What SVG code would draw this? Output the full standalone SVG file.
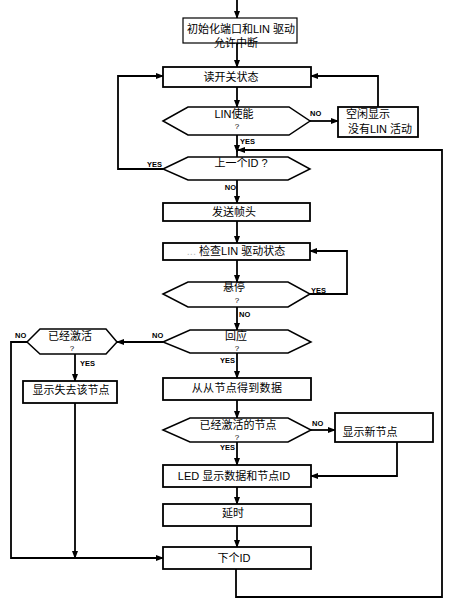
<svg xmlns="http://www.w3.org/2000/svg" width="450" height="607" viewBox="0 0 450 607">
<style>
.bx{fill:#fff;stroke:#000;stroke-width:1.8}
.hx{fill:#fff;stroke:#000;stroke-width:1.5}
.t{font-family:"Liberation Sans","Noto Sans CJK SC",sans-serif;font-size:11px;fill:#000;text-anchor:middle}
.q{font-family:"Liberation Sans",sans-serif;font-size:8px;fill:#000;text-anchor:middle}
.l{font-family:"Liberation Sans",sans-serif;font-size:7.5px;font-weight:bold;fill:#000}
.c{fill:none;stroke:#000;stroke-width:1.8}
</style>
<defs>
<marker id="a" markerWidth="8" markerHeight="6" refX="7" refY="3" orient="auto" markerUnits="userSpaceOnUse">
<path d="M0,0 L8,3 L0,6 Z" fill="#000"/>
</marker>
</defs>
<g id="connectors">
<path class="c" d="M237,0 V18" marker-end="url(#a)"/>
<path class="c" d="M237,43 V67" marker-end="url(#a)"/>
<path class="c" d="M237,87 V107" marker-end="url(#a)"/>
<path class="c" d="M310,121 H338" marker-end="url(#a)"/>
<path class="c" d="M378,107 V76 H311" marker-end="url(#a)"/>
<path class="c" d="M237,135 V152" marker-end="url(#a)"/>
<path class="c" d="M237,150 V157"/>
<path class="c" d="M236,569 V597 H442 V150 H238" marker-end="url(#a)"/>
<path class="c" d="M163,169 H118 V76 H163" marker-end="url(#a)"/>
<path class="c" d="M237,180 V203" marker-end="url(#a)"/>
<path class="c" d="M237,221 V243" marker-end="url(#a)"/>
<path class="c" d="M237,260 V282" marker-end="url(#a)"/>
<path class="c" d="M310,294 H347 V251 H310" marker-end="url(#a)"/>
<path class="c" d="M237,307 V330" marker-end="url(#a)"/>
<path class="c" d="M163,342 H117" marker-end="url(#a)"/>
<path class="c" d="M27,342 H11 V558 H163" marker-end="url(#a)"/>
<path class="c" d="M75,354 V381" marker-end="url(#a)"/>
<path class="c" d="M75,403 V558" marker-end="url(#a)"/>
<path class="c" d="M237,353 V378" marker-end="url(#a)"/>
<path class="c" d="M237,400 V418" marker-end="url(#a)"/>
<path class="c" d="M311,430 H335" marker-end="url(#a)"/>
<path class="c" d="M397,442 V476 H311" marker-end="url(#a)"/>
<path class="c" d="M237,442 V465" marker-end="url(#a)"/>
<path class="c" d="M237,487 V504" marker-end="url(#a)"/>
<path class="c" d="M237,526 V547" marker-end="url(#a)"/>
</g>
<g id="init">
<rect x="183" y="18" width="114" height="25" fill="#fff" stroke="#000" stroke-width="1.2"/>
<text class="t" x="241" y="33">初始化端口和LIN 驱动</text>
<text class="t" x="236" y="47">允许中断</text>
</g>
<g id="readSwitch">
<rect class="bx" x="163" y="67" width="148" height="20"/>
<text class="t" x="231" y="81">读开关状态</text>
</g>
<g id="linEnable">
<polygon class="hx" points="163,121 188,107 289,107 310,121 289,135 188,135"/>
<text class="t" x="234" y="118">LIN使能</text>
<text class="q" x="237" y="129">?</text>
</g>
<g id="idle">
<rect class="bx" x="338" y="107" width="80" height="30"/>
<text class="t" x="368" y="118">空闲显示</text>
<text class="t" x="380" y="133">没有LIN 活动</text>
</g>
<g id="lastId">
<polygon class="hx" points="163,169 188,157 288,157 310,169 288,180 188,180"/>
<text class="t" x="241" y="167">上一个ID  ?</text>
</g>
<g id="sendHeader">
<rect class="bx" x="163" y="203" width="147" height="18"/>
<text class="t" x="234" y="216">发送帧头</text>
</g>
<g id="checkLin">
<rect class="bx" x="163" y="243" width="147" height="17"/>
<text class="t" x="236" y="255"><tspan fill="#bbb">... </tspan>检查LIN 驱动状态</text>
</g>
<g id="pending">
<polygon class="hx" points="163,294 188,282 288,282 310,294 288,307 188,307"/>
<text class="t" x="234" y="291">悬停</text>
<text class="q" x="237" y="303">?</text>
</g>
<g id="response">
<polygon class="hx" points="163,342 190,330 288,330 311,342 288,353 190,353"/>
<text class="t" x="236" y="340">回应</text>
<text class="q" x="237" y="351">?</text>
</g>
<g id="activated">
<polygon class="hx" points="27,342 40,329 106,329 117,342 106,354 40,354"/>
<text class="t" x="70" y="340">已经激活</text>
<text class="q" x="72" y="351">?</text>
</g>
<g id="showLost">
<rect class="bx" x="23" y="381" width="94" height="22"/>
<text class="t" x="71" y="394">显示失去该节点</text>
</g>
<g id="getData">
<rect class="bx" x="163" y="378" width="148" height="22"/>
<text class="t" x="237" y="392" letter-spacing="0.3">从从节点得到数据</text>
</g>
<g id="activatedNode">
<polygon class="hx" points="163,430 190,418 288,418 311,430 288,442 190,442"/>
<text class="t" x="238" y="429">已经激活的节点</text>
<text class="q" x="237" y="440">?</text>
</g>
<g id="showNew">
<rect class="bx" x="335" y="413" width="98" height="29"/>
<text class="t" x="370" y="436">显示新节点</text>
</g>
<g id="ledShow">
<rect class="bx" x="163" y="465" width="148" height="22"/>
<text class="t" x="234" y="480">LED 显示数据和节点ID</text>
</g>
<g id="delay">
<rect class="bx" x="163" y="504" width="148" height="22"/>
<text class="t" x="233" y="517">延时</text>
</g>
<g id="nextId">
<rect class="bx" x="163" y="547" width="148" height="22"/>
<text class="t" x="234" y="562">下个ID</text>
</g>
<g id="labels">
<text class="l" x="310" y="116">NO</text>
<text class="l" x="240" y="144">YES</text>
<text class="l" x="147" y="167">YES</text>
<text class="l" x="236" y="190" text-anchor="end">NO</text>
<text class="l" x="311" y="293">YES</text>
<text class="l" x="239" y="317">NO</text>
<text class="l" x="152" y="338">NO</text>
<text class="l" x="15" y="338">NO</text>
<text class="l" x="235" y="363" text-anchor="end">YES</text>
<text class="l" x="80" y="366">YES</text>
<text class="l" x="312" y="426">NO</text>
<text class="l" x="235" y="450" text-anchor="end">YES</text>
</g>
</svg>
